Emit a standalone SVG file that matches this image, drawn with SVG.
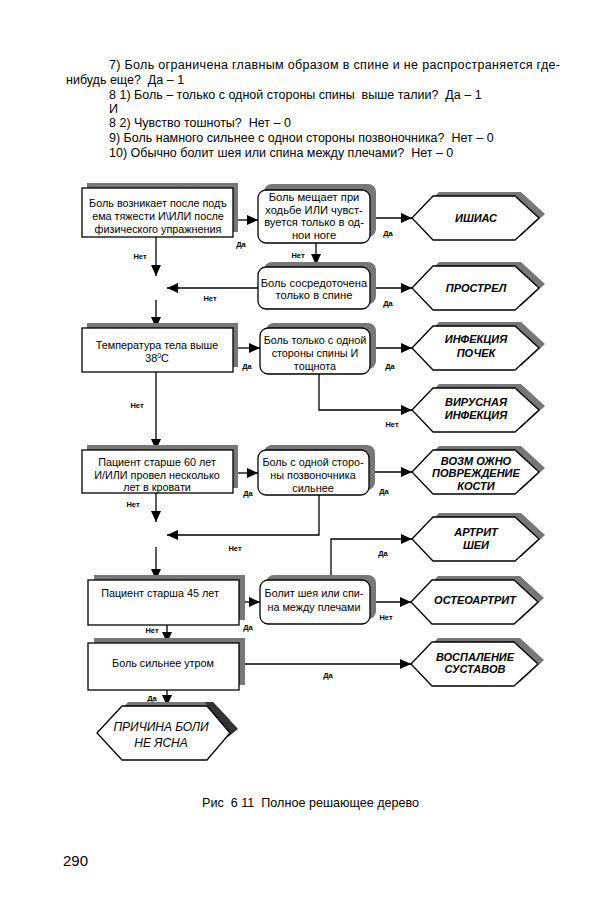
<svg xmlns="http://www.w3.org/2000/svg" width="608" height="900" viewBox="0 0 608 900">
<style>
text{font-family:"Liberation Sans",Arial,sans-serif;fill:#000}
.top{font-size:12.5px;white-space:pre}
.bx{font-size:10.8px;text-anchor:middle}
.bx2{font-size:10.8px;text-anchor:middle}
.bxw{font-size:11.2px;text-anchor:middle}
.hx{font-size:11px;font-weight:bold;font-style:italic;text-anchor:middle}
.lb{font-size:7.5px;font-weight:bold;text-anchor:middle}
.box{fill:#fff;stroke:#000;stroke-width:1.3}
.sh{fill:#777}
.sh2{fill:#333}
.cn{fill:none;stroke:#000;stroke-width:1.3}
.pre{white-space:pre}
</style>
<defs>
<marker id="ah" markerUnits="userSpaceOnUse" markerWidth="12" markerHeight="10" refX="11" refY="5" orient="auto">
<path d="M0,0 L11,5 L0,10 Z" fill="#000"/>
</marker>
<path id="hex" d="M0,0 L21,-22 L103,-22 L127,0 L103,22 L21,22 Z"/>
</defs>
<rect width="608" height="900" fill="#fff"/>

<g id="intro">
<text class="top" x="109" y="69" textLength="451" lengthAdjust="spacing">7) Боль ограничена главным образом в спине и не распространяется где-</text>
<text class="top" x="66" y="84">нибудь еще?  Да – 1</text>
<text class="top" x="109" y="99">8 1) Боль – только с одной стороны спины  выше талии?  Да – 1</text>
<text class="top" x="109" y="113">И</text>
<text class="top" x="109" y="127">8 2) Чувство тошноты?  Нет – 0</text>
<text class="top" x="109" y="142">9) Боль намного сильнее с однои стороны позвоночника?  Нет – 0</text>
<text class="top" x="109" y="157">10) Обычно болит шея или спина между плечами?  Нет – 0</text>
</g>

<g id="connectors">
<path class="cn" marker-end="url(#ah)" d="M233,220 H258"/>
<path class="cn" marker-end="url(#ah)" d="M370,218 H412"/>
<path class="cn" marker-end="url(#ah)" d="M316,243 V265"/>
<path class="cn" marker-end="url(#ah)" d="M156,237 V276"/>
<path class="cn" marker-end="url(#ah)" d="M258,288 H167"/>
<path class="cn" marker-end="url(#ah)" d="M156,300 V328"/>
<path class="cn" marker-end="url(#ah)" d="M370,288 H412"/>
<path class="cn" marker-end="url(#ah)" d="M233,348 H260"/>
<path class="cn" marker-end="url(#ah)" d="M370,348 H412"/>
<path class="cn" marker-end="url(#ah)" d="M319,374 V410 H412"/>
<path class="cn" marker-end="url(#ah)" d="M156,372 V450"/>
<path class="cn" marker-end="url(#ah)" d="M233,473 H258"/>
<path class="cn" marker-end="url(#ah)" d="M369,472 H412"/>
<path class="cn" marker-end="url(#ah)" d="M156,493 V522"/>
<path class="cn" marker-end="url(#ah)" d="M319,495 V535 H167"/>
<path class="cn" marker-end="url(#ah)" d="M156,547 V580"/>
<path class="cn" marker-end="url(#ah)" d="M239,602 H260"/>
<path class="cn" marker-end="url(#ah)" d="M331,575 V539 H412"/>
<path class="cn" marker-end="url(#ah)" d="M370,602 H411"/>
<path class="cn" marker-end="url(#ah)" d="M167,625 V643"/>
<path class="cn" marker-end="url(#ah)" d="M239,664 H411"/>
<path class="cn" marker-end="url(#ah)" d="M167,690 V706"/>
<g class="lb">
<text x="241" y="247">Да</text>
<text x="388" y="236">Да</text>
<text x="298" y="258">Нет</text>
<text x="140" y="259">Нет</text>
<text x="210" y="301">Нет</text>
<text x="388" y="306">Да</text>
<text x="247" y="369">Да</text>
<text x="390" y="369">Да</text>
<text x="392" y="427">Нет</text>
<text x="137" y="408">Нет</text>
<text x="248" y="496">Да</text>
<text x="384" y="494">Да</text>
<text x="133" y="507">Нет</text>
<text x="235" y="551">Нет</text>
<text x="383" y="556">Да</text>
<text x="248" y="630">Да</text>
<text x="386" y="620">Нет</text>
<text x="152" y="633">Нет</text>
<text x="328" y="678">Да</text>
<text x="152" y="701">Да</text>
</g>
</g>

<g id="n1">
<rect class="sh" x="87" y="183" width="151" height="49"/>
<rect class="box" x="82" y="188" width="151" height="49"/>
<text class="bx" x="158" y="207">Боль возникает после подъ</text>
<text class="bx" x="158" y="220">ема тяжести И\ИЛИ после</text>
<text class="bx" x="158" y="233">физического упражнения</text>
</g>
<g id="n2">
<rect class="sh" x="264" y="184" width="112" height="53" rx="8"/>
<rect class="box" x="258" y="190" width="112" height="53" rx="8"/>
<text class="bxw" x="314" y="201">Боль мещает при</text>
<text class="bxw" x="314" y="213.5">ходьбе ИЛИ чувст-</text>
<text class="bxw" x="314" y="226">вуется только в од-</text>
<text class="bxw" x="314" y="238.5">нои ноге</text>
</g>
<g id="n3">
<rect class="sh" x="264" y="262" width="112" height="42" rx="8"/>
<rect class="box" x="258" y="267" width="112" height="42" rx="8"/>
<text class="bxw" x="314" y="287">Боль сосредоточена</text>
<text class="bxw" x="314" y="299">только в спине</text>
</g>
<g id="n4">
<rect class="sh" x="87" y="323" width="151" height="44"/>
<rect class="box" x="82" y="328" width="151" height="44"/>
<text class="bx2" x="157" y="349">Температура тела выше</text>
<text class="bx2" x="157" y="362">38<tspan font-size="7" dy="-4">0</tspan><tspan dy="4">С</tspan></text>
</g>
<g id="n5">
<rect class="sh" x="266" y="323" width="110" height="46" rx="8"/>
<rect class="box" x="260" y="328" width="110" height="46" rx="8"/>
<text class="bx2" x="315" y="344">Боль только с одной</text>
<text class="bx2" x="315" y="357">стороны спины И</text>
<text class="bx2" x="315" y="370">тощнота</text>
</g>
<g id="n6">
<rect class="sh" x="87" y="445" width="151" height="43"/>
<rect class="box" x="82" y="450" width="151" height="43"/>
<text class="bx2" x="157" y="466">Пациент старше 60 лет</text>
<text class="bx2" x="157" y="479">И/ИЛИ провел несколько</text>
<text class="bx2" x="157" y="491">лет в кровати</text>
</g>
<g id="n7">
<rect class="sh" x="264" y="445" width="111" height="45" rx="8"/>
<rect class="box" x="258" y="450" width="111" height="45" rx="8"/>
<text class="bx" x="313" y="466">Боль с одной сторо-</text>
<text class="bx" x="313" y="479">ны позвоночника</text>
<text class="bx" x="313" y="492">сильнее</text>
</g>
<g id="n8">
<rect class="sh" x="94" y="575" width="151" height="45"/>
<rect class="box" x="88" y="580" width="151" height="45"/>
<text class="bx" x="160" y="597">Пациент старша 45 лет</text>
</g>
<g id="n9">
<rect class="sh" x="266" y="575" width="110" height="44" rx="8"/>
<rect class="box" x="260" y="580" width="110" height="44" rx="8"/>
<text class="bx" x="314" y="597">Болит шея или спи-</text>
<text class="bx" x="314" y="611">на между плечами</text>
</g>
<g id="n10">
<rect class="sh" x="94" y="638" width="151" height="47"/>
<rect class="box" x="88" y="643" width="151" height="47"/>
<text class="bx" x="163" y="667">Боль сильнее утром</text>
</g>

<g id="h1">
<use href="#hex" x="418" y="214" class="sh"/>
<use href="#hex" x="412" y="218" class="box"/>
<text class="hx" x="476" y="222">ИШИАС</text>
</g>
<g id="h2">
<use href="#hex" x="418" y="284" class="sh"/>
<use href="#hex" x="412" y="288" class="box"/>
<text class="hx" x="476" y="292">ПРОСТРЕЛ</text>
</g>
<g id="h3">
<use href="#hex" x="418" y="344" class="sh"/>
<use href="#hex" x="412" y="348" class="box"/>
<text class="hx" x="476" y="343">ИНФЕКЦИЯ</text>
<text class="hx" x="476" y="357">ПОЧЕК</text>
</g>
<g id="h4">
<use href="#hex" x="418" y="406" class="sh"/>
<use href="#hex" x="412" y="410" class="box"/>
<text class="hx" x="476" y="406">ВИРУСНАЯ</text>
<text class="hx" x="476" y="419">ИНФЕКЦИЯ</text>
</g>
<g id="h5">
<use href="#hex" x="418" y="468" class="sh"/>
<use href="#hex" x="412" y="472" class="box"/>
<text class="hx" x="476" y="465">ВОЗМ ОЖНО</text>
<text class="hx" x="476" y="477">ПОВРЕЖДЕНИЕ</text>
<text class="hx" x="476" y="490">КОСТИ</text>
</g>
<g id="h6">
<use href="#hex" x="418" y="535" class="sh"/>
<use href="#hex" x="412" y="539" class="box"/>
<text class="hx" x="476" y="536">АРТРИТ</text>
<text class="hx" x="476" y="549">ШЕИ</text>
</g>
<g id="h7">
<use href="#hex" x="417" y="598" class="sh"/>
<use href="#hex" x="411" y="602" class="box"/>
<text class="hx" x="475" y="604">ОСТЕОАРТРИТ</text>
</g>
<g id="h8">
<use href="#hex" x="417" y="660" class="sh"/>
<use href="#hex" x="411" y="664" class="box"/>
<text class="hx" x="475" y="661">ВОСПАЛЕНИЕ</text>
<text class="hx" x="475" y="673">СУСТАВОВ</text>
</g>
<g id="h9">
<path class="sh" d="M104,729 L128,702 L213,702 L230,720 Z"/>
<path class="sh2" d="M205,702 L213,702 L238,729 L228,737 Z"/>
<path class="box" d="M97,733 L122,706 L207,706 L230,733 L207,760 L122,760 Z"/>
<text x="161" y="731" font-size="12" font-style="italic" text-anchor="middle">ПРИЧИНА БОЛИ</text>
<text x="161" y="747" font-size="12" font-style="italic" text-anchor="middle">НЕ ЯСНА</text>
</g>

<g id="caption">
<text class="pre" x="202" y="807" font-size="12.6">Рис  6 11  Полное решающее дерево</text>
<text x="63" y="866" font-size="15">290</text>
</g>
</svg>
